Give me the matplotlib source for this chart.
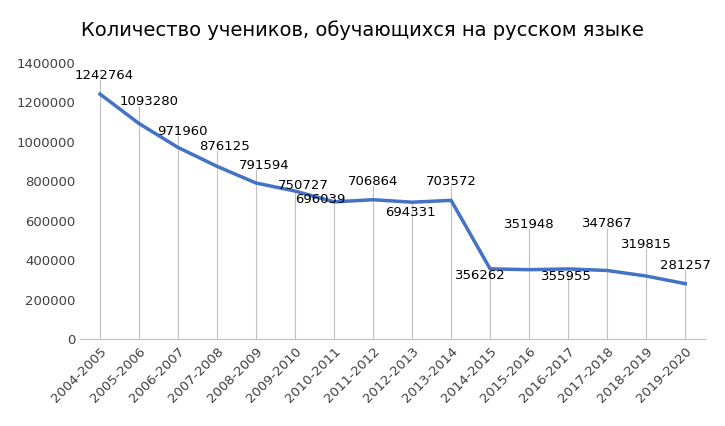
import matplotlib.pyplot as plt

years = ["2004-2005", "2005-2006", "2006-2007", "2007-2008", "2008-2009", "2009-2010",
         "2010-2011", "2011-2012", "2012-2013", "2013-2014", "2014-2015", "2015-2016",
         "2016-2017", "2017-2018", "2018-2019", "2019-2020"]
students = [1242764, 1093280, 971960, 876125, 791594, 750727, 696039, 706864,
            694331, 703572, 356262, 351948, 355955, 347867, 319815, 281257]

# label placement (x shift in categories, y shift in values)
lab_dx = [0.1, 0.25, 0.1, 0.2, 0.2, 0.2, -0.35, 0, -0.05, 0, -0.25, 0, -0.05, 0, 0, 0]
lab_dy = [96000, 114000, 83000, 103000, 90000, 30000, 14000, 94000, -50000, 98000,
          -36000, 231000, -36000, 236000, 162000, 94000]

fig = plt.figure(figsize=(7.25, 4.26), dpi=100)
ax = fig.add_axes([0.111, 0.204, 0.861, 0.648])

x = list(range(len(years)))
for i, v in enumerate(students):
    top = v + lab_dy[i] - 25000 if lab_dy[i] > 0 else v
    ax.plot([i, i], [0, top], color="#bfbfbf", lw=0.8, zorder=1)

ax.plot(x, students, color="#4472C4", lw=2.5, zorder=3)

for i, v in enumerate(students):
    ax.text(i + lab_dx[i], v + lab_dy[i], str(v), ha="center", va="center",
            fontsize=9.5, color="#000000", zorder=4)

ax.set_xlim(-0.5, 15.5)
ax.set_ylim(0, 1400000)
ax.set_yticks(range(0, 1400001, 200000))
ax.set_yticklabels([str(t) for t in range(0, 1400001, 200000)], fontsize=9.5)
ax.set_xticks(x)
ax.set_xticklabels(years, rotation=45, ha="right", rotation_mode="anchor", fontsize=9.5)
for s in ["top", "right", "left"]:
    ax.spines[s].set_visible(False)
ax.spines["bottom"].set_color("#bfbfbf")
ax.tick_params(axis="y", length=0, colors="#404040")
ax.tick_params(axis="x", length=0, colors="#404040", pad=4)

fig.text(0.5, 0.93, "Количество учеников, обучающихся на русском языке",
         ha="center", va="center", fontsize=14, color="#000000")

fig.savefig("out.png", dpi=100)
